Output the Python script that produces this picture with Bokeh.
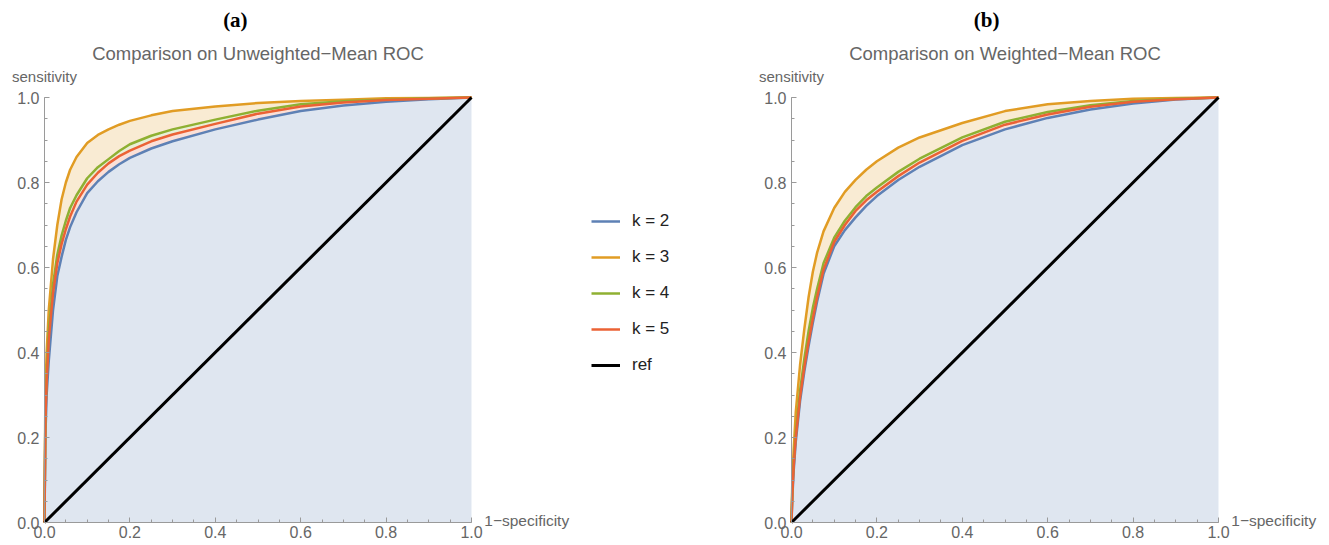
from bokeh.plotting import figure
from bokeh.models import Range1d, FixedTicker, PrintfTickFormatter, Label, Legend, LegendItem
from bokeh.layouts import row
from bokeh.embed import file_html
from bokeh.resources import INLINE

# ---- data ----
fpr = [0, 0.002, 0.005, 0.01, 0.02, 0.03, 0.04, 0.05, 0.06, 0.075, 0.1, 0.125,
       0.15, 0.175, 0.2, 0.25, 0.3, 0.4, 0.5, 0.6, 0.7, 0.8, 0.9, 1.0]

# (a) Unweighted-mean ROC
a_k2 = [0, 0.20, 0.30, 0.38, 0.50, 0.58, 0.625, 0.665, 0.695, 0.73, 0.775, 0.803,
        0.825, 0.843, 0.858, 0.88, 0.897, 0.925, 0.948, 0.968, 0.981, 0.99, 0.996, 1.0]
a_k3 = [0, 0.30, 0.40, 0.50, 0.62, 0.70, 0.76, 0.80, 0.83, 0.86, 0.893, 0.912,
        0.925, 0.936, 0.945, 0.958, 0.968, 0.979, 0.987, 0.992, 0.995, 0.998, 0.999, 1.0]
a_k4 = [0, 0.25, 0.35, 0.45, 0.56, 0.63, 0.675, 0.71, 0.74, 0.77, 0.81, 0.836,
        0.855, 0.874, 0.89, 0.91, 0.925, 0.948, 0.969, 0.984, 0.991, 0.995, 0.998, 1.0]
a_k5 = [0, 0.24, 0.33, 0.43, 0.54, 0.61, 0.655, 0.69, 0.72, 0.755, 0.795, 0.823,
        0.845, 0.862, 0.875, 0.897, 0.913, 0.938, 0.962, 0.979, 0.988, 0.994, 0.997, 1.0]

# (b) Weighted-mean ROC
b_k2 = [0, 0.06, 0.12, 0.19, 0.285, 0.355, 0.415, 0.47, 0.52, 0.585, 0.65, 0.688,
        0.718, 0.745, 0.768, 0.806, 0.837, 0.888, 0.925, 0.952, 0.972, 0.986, 0.995, 1.0]
b_k3 = [0, 0.10, 0.17, 0.26, 0.37, 0.455, 0.53, 0.59, 0.635, 0.685, 0.74, 0.778,
        0.806, 0.83, 0.85, 0.882, 0.906, 0.94, 0.968, 0.984, 0.992, 0.997, 0.999, 1.0]
b_k4 = [0, 0.08, 0.14, 0.21, 0.31, 0.385, 0.45, 0.505, 0.55, 0.61, 0.67, 0.71,
        0.742, 0.768, 0.788, 0.825, 0.856, 0.906, 0.943, 0.966, 0.982, 0.992, 0.997, 1.0]
b_k5 = [0, 0.07, 0.13, 0.20, 0.295, 0.365, 0.425, 0.48, 0.53, 0.595, 0.66, 0.70,
        0.733, 0.758, 0.778, 0.815, 0.847, 0.898, 0.936, 0.960, 0.978, 0.990, 0.996, 1.0]

ref_x = [0, 1]
ref_y = [0, 1]

series_labels = ["k = 2", "k = 3", "k = 4", "k = 5", "ref"]
tick_vals = [0.0, 0.2, 0.4, 0.6, 0.8, 1.0]

# ---- style ----
C_K2 = "#5E81B5"
C_K3 = "#E19C24"
C_K4 = "#8FB032"
C_K5 = "#EB6235"
TXT = "#666666"
AXC = "#9a9a9a"
FONT = "Liberation Sans"

PXX = 427.0   # pixels per unit (x)
PXY = 425.0   # pixels per unit (y)
H = 545
BOTTOM_OFF = 23


def make_panel(width, left_off, k2, k3, k4, k5, tag, title):
    p = figure(width=width, height=H, output_backend="svg", toolbar_location=None,
               x_range=Range1d(-left_off / PXX, (width - left_off) / PXX),
               y_range=Range1d(-BOTTOM_OFF / PXY, (H - BOTTOM_OFF) / PXY),
               min_border=0, outline_line_color=None)
    p.grid.visible = False
    p.background_fill_color = "white"
    p.border_fill_color = "white"

    # pale fills between successive curves (Mathematica-like)
    p.varea(x=fpr, y1=[0] * len(fpr), y2=k2, fill_color=C_K2, fill_alpha=0.2)
    p.varea(x=fpr, y1=k2, y2=k5, fill_color=C_K5, fill_alpha=0.2)
    p.varea(x=fpr, y1=k5, y2=k4, fill_color=C_K4, fill_alpha=0.2)
    p.varea(x=fpr, y1=k4, y2=k3, fill_color=C_K3, fill_alpha=0.2)

    r2 = p.line(fpr, k2, line_color=C_K2, line_width=2.5, line_join="round")
    r3 = p.line(fpr, k3, line_color=C_K3, line_width=2.5, line_join="round")
    r4 = p.line(fpr, k4, line_color=C_K4, line_width=2.5, line_join="round")
    r5 = p.line(fpr, k5, line_color=C_K5, line_width=2.5, line_join="round")
    rr = p.line(ref_x, ref_y, line_color="black", line_width=3)

    minor = [round(0.05 * i, 2) for i in range(21)]
    for ax in (p.xaxis[0], p.yaxis[0]):
        ax.fixed_location = 0
        ax.bounds = (0, 1)
        ax.ticker = FixedTicker(ticks=tick_vals, minor_ticks=minor)
        ax.formatter = PrintfTickFormatter(format="%.1f")
        ax.axis_line_color = AXC
        ax.major_tick_line_color = AXC
        ax.minor_tick_line_color = AXC
        ax.major_tick_in = 5
        ax.major_tick_out = 0
        ax.minor_tick_in = 3
        ax.minor_tick_out = 0
        ax.major_label_text_color = TXT
        ax.major_label_text_font = FONT
        ax.major_label_text_font_size = "16px"
    p.xaxis[0].major_label_standoff = 3
    p.yaxis[0].major_label_standoff = 5

    p.add_layout(Label(x=tag[1], y=1.1835, text=tag[0], text_align="center",
                       text_baseline="middle", text_font="Liberation Serif",
                       text_font_style="bold", text_font_size="21px", text_color="black"))
    p.add_layout(Label(x=0.5, y=1.1047, text=title, text_align="center",
                       text_baseline="middle", text_font=FONT,
                       text_font_size="18.5px", text_color=TXT))
    p.add_layout(Label(x=0, y=1.049, text="sensitivity", text_align="center",
                       text_baseline="middle", text_font=FONT,
                       text_font_size="15px", text_color=TXT))
    p.add_layout(Label(x=1.03, y=0.005, text="1\u2212specificity", text_align="left",
                       text_baseline="middle", text_font=FONT,
                       text_font_size="15.5px", text_color=TXT))
    return p, [r2, r3, r4, r5, rr]


pa, ra = make_panel(750, 44, a_k2, a_k3, a_k4, a_k5, ("(a)", 0.447),
                    "Comparison on Unweighted\u2212Mean ROC")
pb, rb = make_panel(579, 41, b_k2, b_k3, b_k4, b_k5, ("(b)", 0.457),
                    "Comparison on Weighted\u2212Mean ROC")

legend = Legend(
    items=[LegendItem(label=lab, renderers=[r]) for lab, r in zip(series_labels, ra)],
    location=(591, 170), orientation="vertical",
    border_line_color=None, background_fill_alpha=0, padding=0, margin=0,
    spacing=16, glyph_width=29, glyph_height=20, label_height=20, label_standoff=12,
    label_text_font_size="17px", label_text_color="#222222", label_text_font=FONT,
)
pa.add_layout(legend)

layout = row(pa, pb)
open("out.html", "w").write(file_html(layout, INLINE))
